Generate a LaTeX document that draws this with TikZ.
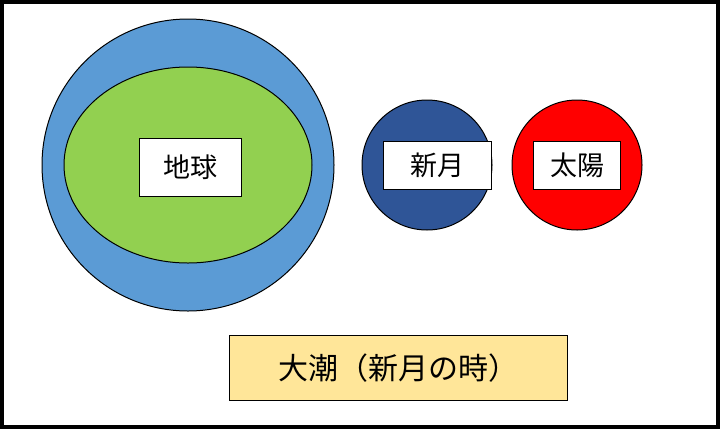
\documentclass[tikz,border=0pt]{standalone}
\usepackage{fontspec}
\usetikzlibrary{shapes.geometric}
\newfontfamily\cjk{Noto Sans CJK JP}
\definecolor{sea}{HTML}{5B9BD5}
\definecolor{land}{HTML}{92D050}
\definecolor{moon}{HTML}{2F5597}
\definecolor{note}{HTML}{FFE699}
\begin{document}
\begin{tikzpicture}[x=1pt,y=-1pt,
  lbl/.style={draw=black,fill=white,line width=1pt,font=\cjk\fontsize{27}{30}\selectfont,inner sep=0pt},
  body/.style={draw=black,line width=1pt}]
\useasboundingbox (0,0) rectangle (720,429);
\draw[line width=4pt] (2,2) rectangle (718,427);
\node[body,circle,fill=sea,minimum size=292pt] (earth) at (188,165) {};
\node[body,ellipse,fill=land,minimum width=248pt,minimum height=196pt] (land) at (188,165) {};
\node[body,circle,fill=moon,minimum size=130pt] (moon) at (427,165) {};
\node[body,circle,fill=red,minimum size=130pt] (sun) at (577,165) {};
\node[lbl,minimum width=102pt,minimum height=58pt] (le) at (190,167) {地球};
\node[lbl,minimum width=108pt,minimum height=48pt] (lm) at (437,165) {新月};
\node[lbl,minimum width=87pt,minimum height=48pt] (ls) at (577,165) {太陽};
\node[lbl,fill=note,minimum width=338pt,minimum height=65pt,font=\cjk\fontsize{30}{34}\selectfont] (t) at (398,368) {大潮（新月の時）};
\end{tikzpicture}
\end{document}
